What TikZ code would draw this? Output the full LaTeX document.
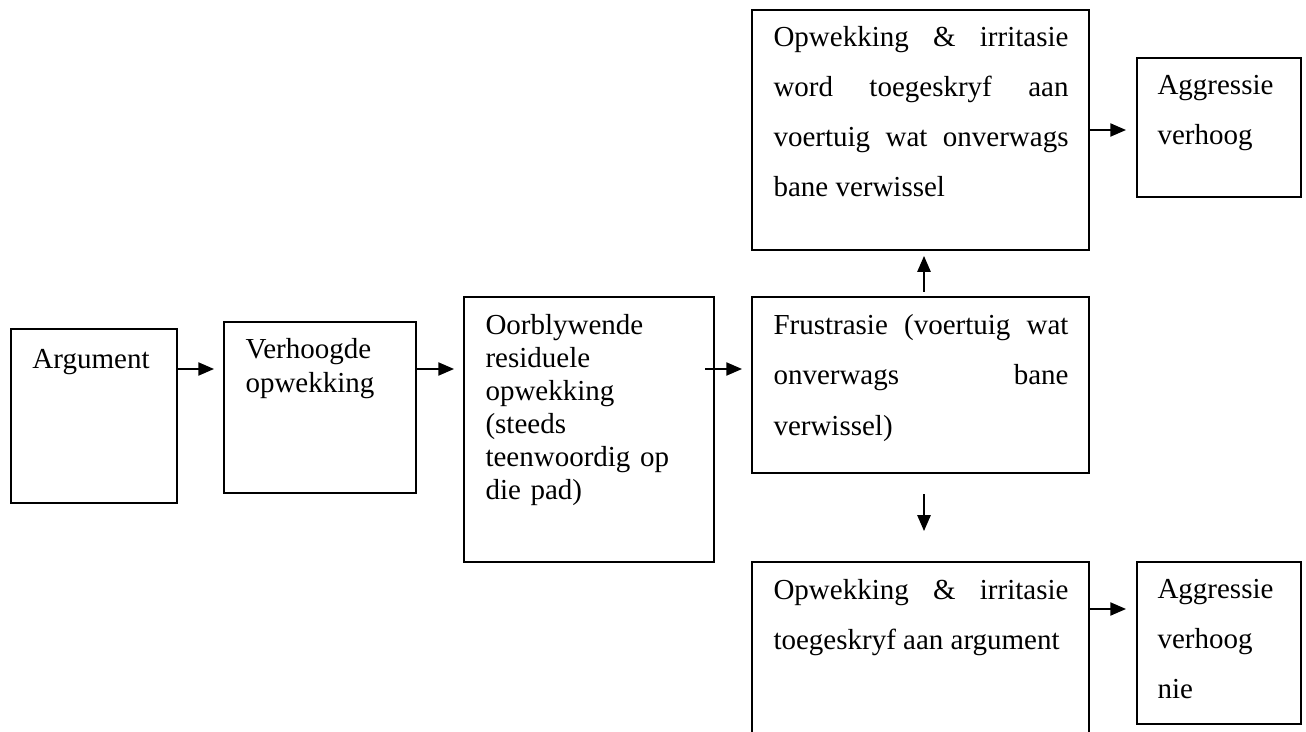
\documentclass[tikz,border=0pt]{standalone}
\usepackage{fontspec}
\setmainfont{Liberation Serif}
\usetikzlibrary{arrows.meta}
\hyphenpenalty=10000
\tolerance=9999

\begin{document}
\begin{tikzpicture}[x=0.4pt,y=-0.4pt,
  box/.style={draw,line width=0.8pt,inner sep=0pt},
  txt/.style={anchor=base west,inner sep=0pt,align=left,text width=100pt,font=\fontsize{11.6}{13.2}\selectfont},
  wtxt/.style={anchor=base west,inner sep=0pt,align=justify,text width=118pt,font=\fontsize{11.6}{20}\selectfont},
  atxt/.style={wtxt,align=left,text width=60pt},
  arr/.style={-{Triangle[length=6.3pt,width=5.3pt]},line width=0.6pt}
]
\path[use as bounding box,clip] (0,0) rectangle (1306,732);
\node[box,minimum width=66.4pt,minimum height=69.6pt] (arg) at (94,416) {};
\node[box,minimum width=76.8pt,minimum height=68.4pt] (hoog) at (320,407.5) {};
\node[box,minimum width=100pt,minimum height=106pt] (res) at (589,429.5) {};
\node[box,minimum width=134.8pt,minimum height=70.4pt] (frus) at (920.5,385) {};
\node[box,minimum width=134.8pt,minimum height=96pt] (word) at (920.5,130) {};
\node[box,minimum width=65.6pt,minimum height=55.6pt] (agg1) at (1219,127.5) {};
\node[box,minimum width=134.8pt,minimum height=80pt] (toeg) at (920.5,662) {};
\node[box,minimum width=65.6pt,minimum height=64.8pt] (agg2) at (1219,643) {};

\node[txt] (argtxt) at (32,368) {Argument};
\node[txt] (hoogtxt) at (245,359) {Verhoogde\\opwekking};
\node[txt] (restxt) at (485,334) {Oorblywende\\residuele\\opwekking\\(steeds\\teenwoordig op\\die pad)};
\node[wtxt] (frustxt) at (773,335) {Frustrasie (voertuig wat\linebreak onverwags bane\linebreak verwissel)};
\node[wtxt] (wordtxt) at (773,47) {Opwekking \& irritasie word toegeskryf aan voertuig wat onverwags bane verwissel};
\node[atxt] (agg1txt) at (1157,95) {Aggressie\\verhoog};
\node[wtxt] (toegtxt) at (773,599) {Opwekking \& irritasie toegeskryf aan argument};
\node[atxt] (agg2txt) at (1157,598) {Aggressie\\verhoog\\nie};

\coordinate (row) at (0,369);
\coordinate (col) at (924,0);
\coordinate (low) at (0,609);
\draw[arr,shorten >=3.6pt] (arg.east |- row) -- (hoog.west |- row);
\draw[arr,shorten >=3.6pt] (hoog.east |- row) -- (res.west |- row);
\draw[arr,shorten <=-4pt,shorten >=3.6pt] (res.east |- row) -- (frus.west |- row);
\draw[arr,shorten <=1.6pt,shorten >=2pt] (frus.north -| col) -- (word.south -| col);
\draw[arr,shorten <=8pt,shorten >=12pt] (frus.south -| col) -- (toeg.north -| col);
\draw[arr,shorten >=4pt] (word.east) -- (word.east -| agg1.west);
\draw[arr,shorten >=4pt] (toeg.east |- low) -- (agg2.west |- low);
\end{tikzpicture}
\end{document}
